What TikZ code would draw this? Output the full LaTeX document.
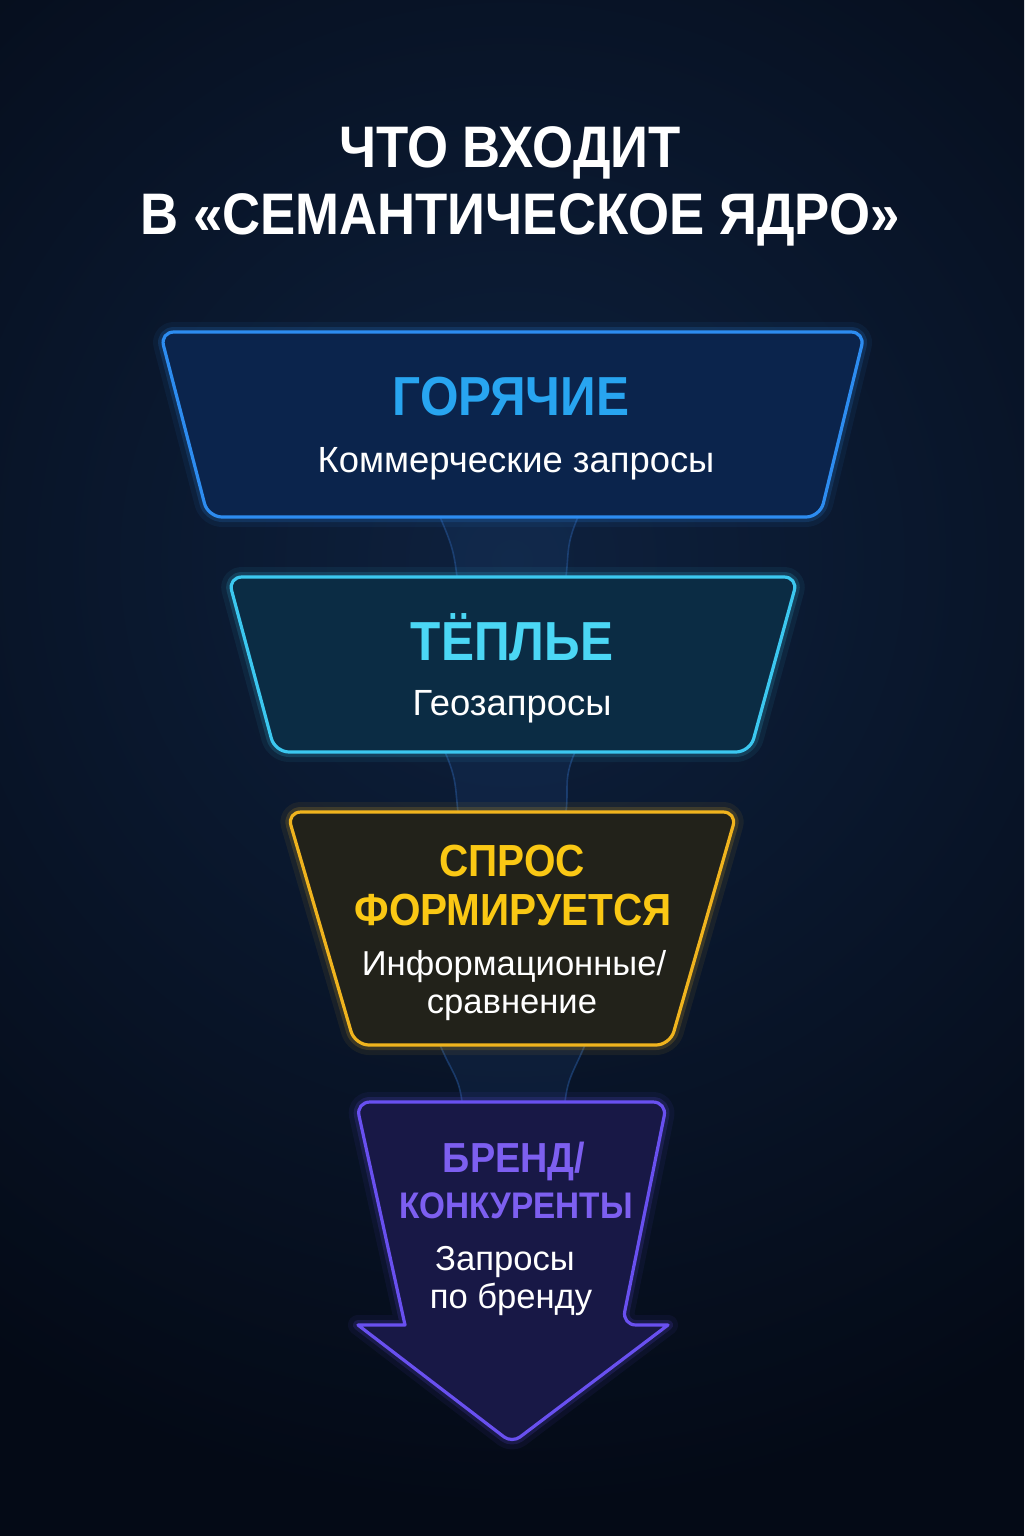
\documentclass[tikz,border=0pt]{standalone}
\usepackage{fontspec}
\setmainfont{Liberation Sans}
\newfontfamily\headfont[FakeStretch=0.9]{Liberation Sans}
\definecolor{bgdark}{RGB}{4,10,22}
\definecolor{bgmid}{RGB}{14,33,62}
\definecolor{hotline}{RGB}{45,140,240}
\definecolor{hotfill}{RGB}{11,36,76}
\definecolor{hottext}{RGB}{40,165,240}
\definecolor{warmline}{RGB}{60,200,240}
\definecolor{warmfill}{RGB}{11,44,68}
\definecolor{warmtext}{RGB}{75,215,245}
\definecolor{demline}{RGB}{240,180,30}
\definecolor{demfill}{RGB}{34,34,26}
\definecolor{demtext}{RGB}{250,200,20}
\definecolor{brandline}{RGB}{105,80,240}
\definecolor{brandfill}{RGB}{24,24,70}
\definecolor{brandtext}{RGB}{125,95,240}
\definecolor{neckline}{RGB}{40,90,160}

\begin{document}
\begin{tikzpicture}[x=0.5pt,y=-0.5pt]
   \tikzset{BoxStyle/.style={draw=#1line, fill=#1fill, line width=1.6pt,
      rounded corners=7pt, line join=round,
      preaction={draw=#1line, line width=10pt, line join=round, draw opacity=.07},
      preaction={draw=#1line, line width=5pt, line join=round, draw opacity=.16}}}
   \tikzset{NeckStyle/.style={draw=neckline, draw opacity=.5, fill=neckline,
      fill opacity=.14, line width=0.8pt}}
   \tikzset{TitleStyle/.style={anchor=base, text=white,
      font=\headfont\bfseries\fontsize{29.3}{32}\selectfont}}
   \tikzset{HeadStyle/.style={anchor=base, text=#1text,
      font=\headfont\bfseries\fontsize{27.5}{30}\selectfont}}
   \tikzset{SmallHeadStyle/.style={anchor=base, text=#1text,
      font=\headfont\bfseries\fontsize{22.5}{25}\selectfont}}
   \tikzset{SubStyle/.style={anchor=base, text=white,
      font=\fontsize{18.2}{20}\selectfont}}
   \tikzset{SmallSubStyle/.style={anchor=base, text=white,
      font=\fontsize{17.3}{19}\selectfont}}
   % background
   \fill[bgdark] (0,0) rectangle (1024,1536);
   \begin{scope}
      \clip (0,0) rectangle (1024,1536);
      \shade[inner color=bgmid, outer color=bgdark] (512,560) circle (950);
   \end{scope}
   \useasboundingbox (0,0) rectangle (1024,1536);
   % title
   \node[TitleStyle] (title1) at (510,168) {ЧТО ВХОДИТ};
   \node[TitleStyle] (title2) at (520,234) {В «СЕМАНТИЧЕСКОЕ ЯДРО»};
   % neck points
   \coordinate (hot-ol) at (440,517);
   \coordinate (hot-or) at (578,517);
   \coordinate (warm-il) at (457,577);
   \coordinate (warm-ir) at (566,577);
   \coordinate (warm-ol) at (445,752);
   \coordinate (warm-or) at (575,752);
   \coordinate (dem-il) at (458,812);
   \coordinate (dem-ir) at (566,812);
   \coordinate (dem-ol) at (440,1045);
   \coordinate (dem-or) at (585,1045);
   \coordinate (brand-il) at (462,1102);
   \coordinate (brand-ir) at (565,1102);
   \foreach \a/\b in {hot/warm,warm/dem,dem/brand}
      \filldraw[NeckStyle] (\a-ol) .. controls +(12,28) and +(-3,-25) .. (\b-il)
         -- (\b-ir) .. controls +(3,-25) and +(-12,28) .. (\a-or) -- cycle;
   % boxes
   \draw[BoxStyle=hot] (160,332) -- (865,332) -- (820,517) -- (208,517) -- cycle;
   \draw[BoxStyle=warm] (228,577) -- (798,577) -- (750,752) -- (275,752) -- cycle;
   \draw[BoxStyle=dem] (287,812) -- (737,812) -- (670,1045) -- (355,1045) -- cycle;
   \draw[BoxStyle=brand, sharp corners] (405,1325) [rounded corners=7pt]
      -- (356,1102) -- (667,1102) -- (622,1325) [sharp corners] -- (668,1325)
      [rounded corners=5pt] -- (512,1443) [sharp corners] -- (358,1325) -- cycle;
   % labels
   \node[HeadStyle=hot] (hot) at (511,415) {ГОРЯЧИЕ};
   \node[SubStyle] (hotsub) at (516,472) {Коммерческие запросы};
   \node[HeadStyle=warm] (warm) at (512,660) {ТЁПЛЬЕ};
   \node[SubStyle] (warmsub) at (512,715) {Геозапросы};
   \node[SmallHeadStyle=dem] (dem1) at (512,876) {СПРОС};
   \node[SmallHeadStyle=dem] (dem2) at (513,925) {ФОРМИРУЕТСЯ};
   \node[SmallSubStyle] (demsub1) at (514,975) {Информационные/};
   \node[SmallSubStyle] (demsub2) at (512,1013) {сравнение};
   \node[SmallHeadStyle=brand, font=\headfont\bfseries\fontsize{21}{23}\selectfont] (brand1) at (514,1172) {БРЕНД/};
   \node[SmallHeadStyle=brand, font=\headfont\bfseries\fontsize{18.5}{21}\selectfont] (brand2) at (516,1218) {КОНКУРЕНТЫ};
   \node[SmallSubStyle] (brandsub1) at (505,1270) {Запросы};
   \node[SmallSubStyle] (brandsub2) at (511,1308) {по бренду};
\end{tikzpicture}
\end{document}
